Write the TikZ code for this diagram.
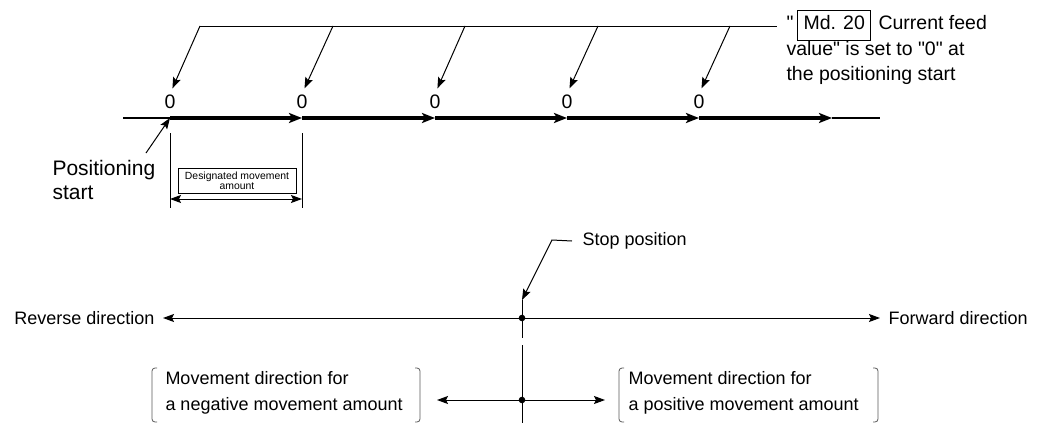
\documentclass[tikz,border=0pt]{standalone}
\usepackage{fontspec}
\setmainfont{Liberation Sans}[Ligatures=TeXOff]
\usetikzlibrary{arrows.meta}

\begin{document}
\begin{tikzpicture}[x=1pt, y=-1pt, line width=1pt,
    every node/.style={inner sep=0pt},
    grande/.style={font=\fontsize{19.5}{25.5}\selectfont},
    medio/.style={font=\fontsize{18}{26}\selectfont},
    freccia/.style={-{Stealth[length=11pt,width=8pt,inset=2pt]}},
    spessa/.style={line width=4pt, -{Stealth[length=13pt,width=10pt,inset=3pt]}},
    parentesi/.style={black!65, line width=0.8pt, rounded corners=3pt}]
    \useasboundingbox (0,0) rectangle (1044,423);

    % Nota in alto a destra
    \node[grande, anchor=base west] (q) at (786,29) {"};
    \node[grande, draw, anchor=base west, inner xsep=6pt, minimum height=30pt, text depth=8pt] (md) at (797,29) {Md. 20};
    \node[grande, anchor=base west] (cf) at (878,29) {Current feed};
    \node[grande, anchor=base west] (nota2) at (786,55) {value" is set to "0" at};
    \node[grande, anchor=base west] (nota3) at (786,80) {the positioning start};

    % Valori zero
    \node[grande, anchor=base] (z1) at (170,108) {0};
    \node[grande, anchor=base] (z2) at (302,108) {0};
    \node[grande, anchor=base] (z3) at (435,108) {0};
    \node[grande, anchor=base] (z4) at (567,108) {0};
    \node[grande, anchor=base] (z5) at (699,108) {0};

    % Linea superiore e frecce verso gli zeri
    \coordinate (t1) at (200,26);
    \coordinate (t2) at (333,26);
    \coordinate (t3) at (465,26);
    \coordinate (t4) at (598,26);
    \coordinate (t5) at (730,26);
    \coordinate (tend) at (777,26);
    \draw (t1) -- (tend);
    \draw[freccia, shorten >=6pt] (t1) -- (z1.north);
    \draw[freccia, shorten >=6pt] (t2) -- (z2.north);
    \draw[freccia, shorten >=6pt] (t3) -- (z3.north);
    \draw[freccia, shorten >=6pt] (t4) -- (z4.north);
    \draw[freccia, shorten >=6pt] (t5) -- (z5.north);

    % Asse
    \coordinate (a0) at (123,118);
    \coordinate (p1) at (170,118);
    \coordinate (p2) at (302,118);
    \coordinate (p3) at (435,118);
    \coordinate (p4) at (567,118);
    \coordinate (p5) at (699,118);
    \coordinate (p6) at (832,118);
    \coordinate (a7) at (880,118);
    \draw[line width=2pt] (a0) -- (p1);
    \draw[line width=2pt] (p6) -- (a7);
    \draw[spessa] (p1) -- (p2);
    \draw[spessa] (p2) -- (p3);
    \draw[spessa] (p3) -- (p4);
    \draw[spessa] (p4) -- (p5);
    \draw[spessa] (p5) -- (p6);

    % Inizio posizionamento
    \node[font=\fontsize{21}{24}\selectfont, anchor=base west] (ps1) at (52,175) {Positioning};
    \node[font=\fontsize{21}{24}\selectfont, anchor=base west] (ps2) at (52,199) {start};
    \coordinate (pk) at (146,153);
    \draw[freccia] (pk) -- (p1);

    % Quantita di movimento
    \coordinate (v1) at (170,133);
    \coordinate (v2) at (302,133);
    \coordinate (w1) at (170,208);
    \coordinate (w2) at (302,208);
    \draw (v1) -- (w1);
    \draw (v2) -- (w2);
    \node[draw, font=\fontsize{10.4}{10.5}\selectfont, align=center, minimum width=118pt, minimum height=25pt] (dm) at (237,181) {Designated movement\\amount};
    \draw[{Stealth[length=11pt,width=8pt,inset=2pt]}-{Stealth[length=11pt,width=8pt,inset=2pt]}] ([yshift=-5pt]v1 |- dm.south) -- ([yshift=-5pt]v2 |- dm.south);

    % Posizione di arresto
    \node[medio, anchor=west] (stop) at (582,241) {Stop position};
    \coordinate (sk) at (552,240);
    \coordinate (vt) at (522,300);
    \coordinate (sp) at (522,318);
    \coordinate (vb) at (522,338);
    \draw[freccia] ([xshift=-10pt]stop.west) -- (sk) -- (vt);
    \draw (vt) -- (vb);

    % Direzioni
    \node[medio, anchor=east] (rev) at (155,318) {Reverse direction};
    \node[medio, anchor=west] (fwd) at (888,318) {Forward direction};
    \draw[freccia, shorten >=8pt] (sp) -- (rev.east);
    \draw[freccia, shorten >=8pt] (sp) -- (fwd.west);
    \fill (sp) circle (3.3pt);

    % Direzione di movimento
    \coordinate (vc) at (522,345);
    \coordinate (dp) at (522,400);
    \coordinate (ve) at (522,423);
    \draw (vc) -- (ve);
    \fill (dp) circle (3.3pt);
    \draw[freccia] (dp) -- (437,400);
    \draw[freccia] (dp) -- (605,400);

    \node[medio, anchor=west, align=left] (neg) at (165,392.5) {Movement direction for\\a negative movement amount};
    \node[medio, anchor=west, align=left] (pos) at (628,392.5) {Movement direction for\\a positive movement amount};
    \draw[parentesi] (157,368) -- (152,368) -- (152,422) -- (157,422);
    \draw[parentesi] (415,368) -- (420,368) -- (420,422) -- (415,422);
    \draw[parentesi] (624,368) -- (619,368) -- (619,422) -- (624,422);
    \draw[parentesi] (873,368) -- (878,368) -- (878,422) -- (873,422);
\end{tikzpicture}
\end{document}
